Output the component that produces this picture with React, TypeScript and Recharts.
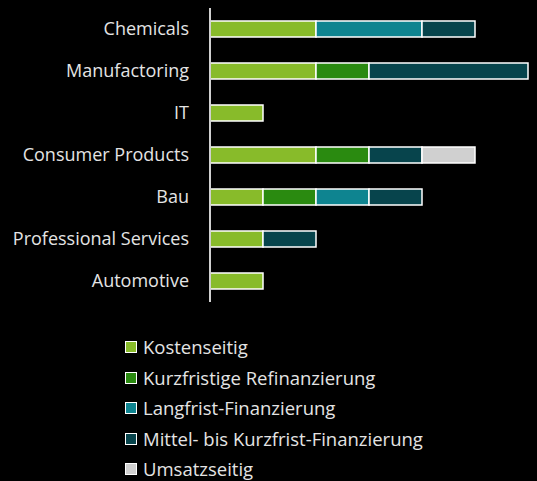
import React from 'react';
import { BarChart, Bar, XAxis, YAxis } from 'recharts';

const categories = ['Chemicals', 'Manufactoring', 'IT', 'Consumer Products', 'Bau', 'Professional Services', 'Automotive'];
const kostenseitig = [2, 2, 1, 2, 1, 1, 1];
const kurzfristige = [0, 1, 0, 1, 1, 0, 0];
const langfrist = [2, 0, 0, 0, 1, 0, 0];
const mittel = [1, 3, 0, 1, 1, 1, 0];
const umsatzseitig = [0, 0, 0, 1, 0, 0, 0];

const series = [
  { key: 'kosten', name: 'Kostenseitig', color: '#88BB2A', values: kostenseitig },
  { key: 'kurz', name: 'Kurzfristige Refinanzierung', color: '#2A8A10', values: kurzfristige },
  { key: 'lang', name: 'Langfrist-Finanzierung', color: '#0E8490', values: langfrist },
  { key: 'mittel', name: 'Mittel- bis Kurzfrist-Finanzierung', color: '#07444C', values: mittel },
  { key: 'umsatz', name: 'Umsatzseitig', color: '#D0D0D0', values: umsatzseitig },
];

const data = categories.map((c, i) => {
  const row: Record<string, any> = { name: c };
  series.forEach((s) => { row[s.key] = s.values[i]; });
  return row;
});

const FONT = '"Open Sans", sans-serif';
const TEXT = '#E4E4E4';
const FS = 18;

export default function App() {
  return (
    <div style={{ position: 'fixed', left: 0, top: 0, width: 537, height: 481, background: '#000', overflow: 'hidden' }}>
      <BarChart
        width={537}
        height={481}
        data={data}
        layout="vertical"
        margin={{ top: 8, right: 9, bottom: 179, left: 0 }}
        barSize={16}
      >
        <XAxis type="number" domain={[0, 6]} hide />
        <YAxis
          type="category"
          dataKey="name"
          width={210}
          axisLine={{ stroke: '#D0D0D0', strokeWidth: 2 }}
          tickLine={false}
          tickSize={0}
          tickMargin={21}
          interval={0}
          tick={{ fill: TEXT, fontSize: FS, fontFamily: FONT }}
        />
        {series.map((s) => (
          <Bar
            key={s.key}
            dataKey={s.key}
            name={s.name}
            stackId="a"
            fill={s.color}
            stroke="#ffffff"
            strokeWidth={1.5}
            isAnimationActive={false}
          />
        ))}
      </BarChart>
      <div style={{ position: 'absolute', left: 125, top: 332, fontFamily: FONT, fontSize: 18.5, color: TEXT, lineHeight: '30.5px' }}>
        {series.map((s) => (
          <div key={s.key} style={{ display: 'flex', alignItems: 'center', height: 30.5, whiteSpace: 'nowrap' }}>
            <span style={{ display: 'inline-block', width: 10, height: 10, background: s.color, border: '1.5px solid #fff', marginRight: 6 }} />
            <span>{s.name}</span>
          </div>
        ))}
      </div>
    </div>
  );
}
